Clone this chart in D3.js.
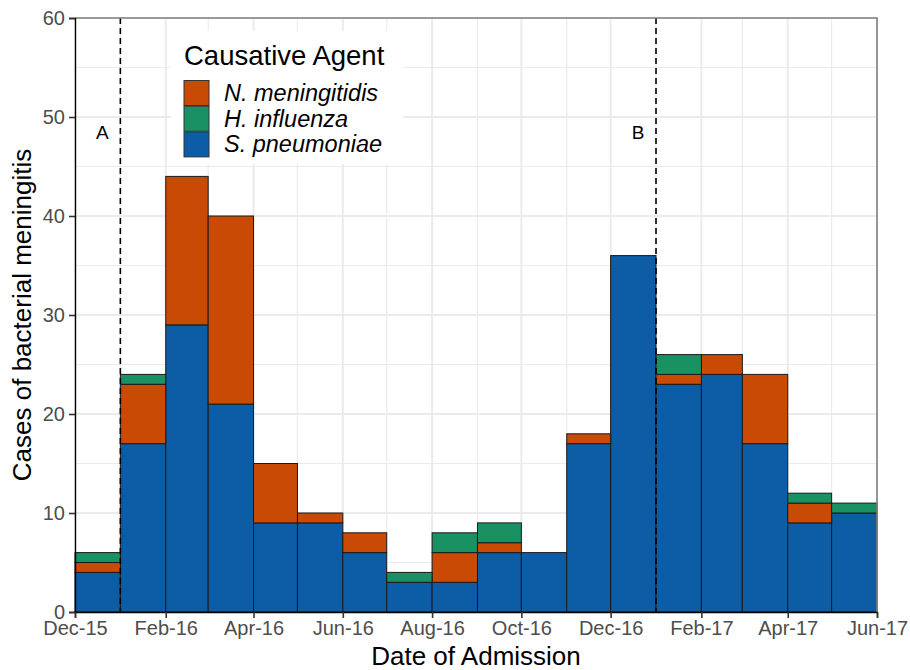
<!DOCTYPE html>
<html><head><meta charset="utf-8">
<script src="https://cdn.jsdelivr.net/npm/d3@7"></script>
<style>body{margin:0;background:#fff}text{font-family:"Liberation Sans",Arial,sans-serif}</style>
</head><body><svg id="c" width="910" height="670"></svg>
<script>
const months = ["2015-12","2016-01","2016-02","2016-03","2016-04","2016-05","2016-06","2016-07","2016-08","2016-09","2016-10","2016-11","2016-12","2017-01","2017-02","2017-03","2017-04","2017-05"];
const sPneumoniae = [4,17,29,21,9,9,6,3,3,6,6,17,36,23,24,17,9,10];
const nMeningitidis = [1,6,15,19,6,1,2,0,3,1,0,1,0,1,2,7,2,0];
const hInfluenza = [1,1,0,0,0,0,0,1,2,2,0,0,0,2,0,0,1,1];
const seriesKeys = ["S. pneumoniae","N. meningitidis","H. influenza"];
const legendOrder = ["N. meningitidis","H. influenza","S. pneumoniae"];
const colors = {"S. pneumoniae":"#0C5DA5","N. meningitidis":"#C84A05","H. influenza":"#1A9163"};
const xTickLabels = ["Dec-15","Feb-16","Apr-16","Jun-16","Aug-16","Oct-16","Dec-16","Feb-17","Apr-17","Jun-17"];
const yTicks = [0,10,20,30,40,50,60];
const markers = [{date:"2016-01",label:"A"},{date:"2017-01",label:"B"}];

const parse = d3.timeParse("%Y-%m");
const rows = months.map((m,i)=>({date:parse(m),"S. pneumoniae":sPneumoniae[i],"N. meningitidis":nMeningitidis[i],"H. influenza":hInfluenza[i]}));
const svg = d3.select("#c");
const L=75,R=877,T=18,B=612;
const x = d3.scaleTime().domain([parse("2015-12"), parse("2017-06")]).range([L,R]);
const y = d3.scaleLinear().domain([0,60]).range([B,T]);

// grid
const g = svg.append("g");
const minorY = d3.range(5,60,10);
const allMonths = d3.timeMonth.range(parse("2015-12"), d3.timeDay.offset(parse("2017-06"),1));
const xMajor = allMonths.filter(d=>d.getMonth()%2===1);
const xMinor = allMonths.filter(d=>d.getMonth()%2===0);
g.selectAll(".hy").data(minorY).join("line").attr("x1",L).attr("x2",R).attr("y1",d=>y(d)).attr("y2",d=>y(d)).attr("stroke","#ebebeb").attr("stroke-width",1.2);
g.selectAll(".hY").data(yTicks).join("line").attr("x1",L).attr("x2",R).attr("y1",d=>y(d)).attr("y2",d=>y(d)).attr("stroke","#ebebeb").attr("stroke-width",2);
g.selectAll(".vx").data(xMinor).join("line").attr("x1",d=>x(d)).attr("x2",d=>x(d)).attr("y1",T).attr("y2",B).attr("stroke","#ebebeb").attr("stroke-width",1.2);
g.selectAll(".vX").data(xMajor).join("line").attr("x1",d=>x(d)).attr("x2",d=>x(d)).attr("y1",T).attr("y2",B).attr("stroke","#ebebeb").attr("stroke-width",2);

// bars
const stack = d3.stack().keys(seriesKeys)(rows);
svg.append("g").selectAll("g").data(stack).join("g").attr("fill",d=>colors[d.key])
 .selectAll("rect").data(d=>d.filter(p=>p[1]>p[0])).join("rect")
 .attr("x",d=>x(d.data.date)).attr("width",d=>x(d3.timeMonth.offset(d.data.date,1))-x(d.data.date))
 .attr("y",d=>y(d[1])).attr("height",d=>y(d[0])-y(d[1]))
 .attr("stroke","#1a1a1a").attr("stroke-width",1);

// markers
markers.forEach(m=>{
  const d=parse(m.date);
  svg.append("line").attr("x1",x(d)).attr("x2",x(d)).attr("y1",T).attr("y2",B).attr("stroke","#000").attr("stroke-width",1.6).attr("stroke-dasharray","6,4");
  svg.append("text").attr("x",x(d)-18).attr("y",y(47.8)).attr("text-anchor","middle").attr("font-size",19).attr("fill","#000").text(m.label);
});

// panel border
svg.append("path").attr("d",`M${L},${T}H${R}V${B}`).attr("fill","none").attr("stroke","#808080").attr("stroke-width",1.6);
// axes
const yAxis = svg.append("g").attr("transform",`translate(${L},0)`).call(d3.axisLeft(y).tickValues(yTicks).tickSize(6).tickPadding(4));
const xAxis = svg.append("g").attr("transform",`translate(0,${B})`).call(d3.axisBottom(x).tickValues(xMajor).tickFormat((d,i)=>xTickLabels[i]).tickSize(6).tickPadding(3));
[yAxis,xAxis].forEach(a=>{a.select(".domain").attr("stroke","#000").attr("stroke-width",1.4);a.selectAll(".tick line").attr("stroke","#333").attr("stroke-width",1.6);a.selectAll("text").attr("font-size",20).attr("fill","#4d4d4d").attr("font-family","Liberation Sans, Arial, sans-serif");});

svg.append("text").attr("x",(L+R)/2).attr("y",665).attr("text-anchor","middle").attr("font-size",26).attr("fill","#000").text("Date of Admission");
svg.append("text").attr("transform",`translate(31,${(T+B)/2}) rotate(-90)`).attr("text-anchor","middle").attr("font-size",26).attr("fill","#000").text("Cases of bacterial meningitis");

// legend
const lg = svg.append("g");
lg.append("rect").attr("x",171).attr("y",31).attr("width",232).attr("height",133).attr("fill","#fff");
lg.append("text").attr("x",184).attr("y",65).attr("font-size",27.5).attr("fill","#000").text("Causative Agent");
legendOrder.forEach((k,i)=>{
  lg.append("rect").attr("x",184).attr("y",80.5+i*25.7).attr("width",25).attr("height",25).attr("fill",colors[k]).attr("stroke","#333").attr("stroke-width",1);
  lg.append("text").attr("x",224).attr("y",101+i*25.7).attr("font-size",23.5).attr("font-style","italic").attr("fill","#000").text(k);
});
</script></body></html>
